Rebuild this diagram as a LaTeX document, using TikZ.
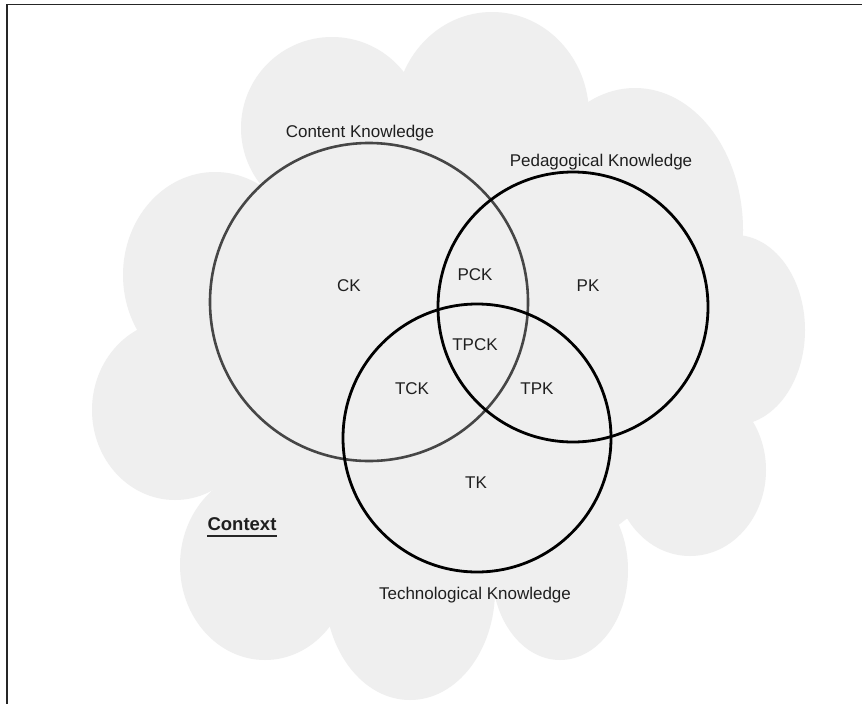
\documentclass[tikz,border=0pt]{standalone}
\usepackage{fontspec}
\setmainfont{Liberation Sans}
\definecolor{cloudgray}{RGB}{239,239,239}
\definecolor{ringck}{RGB}{70,70,70}
\begin{document}
\begin{tikzpicture}[x=1pt,y=-1pt,
  lbl/.style={font=\fontsize{17}{20}\selectfont, text=black!88, inner sep=0pt, anchor=base},
  ring/.style={circle, draw=black, line width=2.8pt, minimum size=#1, inner sep=0pt, outer sep=0pt},
  lobe/.style={fill=cloudgray, draw=none}]
\useasboundingbox (0,0) rectangle (862,704);
\fill[white] (0,0) rectangle (862,704);

% cloud (context)
\fill[lobe] (332,128) ellipse[x radius=91pt, y radius=91pt];
\fill[lobe] (492,115) ellipse[x radius=97pt, y radius=103pt];
\fill[lobe] (635,230) ellipse[x radius=108pt, y radius=142pt];
\fill[lobe] (735,330) ellipse[x radius=70pt, y radius=95pt];
\fill[lobe] (690,470) ellipse[x radius=76pt, y radius=86pt];
\fill[lobe] (560,570) ellipse[x radius=68pt, y radius=90pt];
\fill[lobe] (410,590) ellipse[x radius=85pt, y radius=110pt];
\fill[lobe] (265,565) ellipse[x radius=85pt, y radius=95pt];
\fill[lobe] (175,410) ellipse[x radius=83pt, y radius=90pt];
\fill[lobe] (215,275) ellipse[x radius=92pt, y radius=103pt];
\fill[lobe] (332,128) -- (492,115) -- (635,230) -- (735,330) -- (690,470) -- (560,570)
  -- (410,590) -- (265,565) -- (175,410) -- (215,275) -- cycle;

% frame (top and left edges)
\draw[line width=1.2pt, black!85] (7,704) -- (7,4.5) -- (862,4.5);

% circles
\node[ring=318pt, draw=ringck, line width=2.6pt] (ckring) at (369,302) {};
\node[ring=270pt] (pkring) at (573,307) {};
\node[ring=268pt] (tkring) at (477,438) {};

% labels
\node[lbl] (cklabel) at (360,137.5) {Content Knowledge};
\node[lbl] (pklabel) at (601,166.5) {Pedagogical Knowledge};
\node[lbl] (tklabel) at (475,599) {Technological Knowledge};
\node[lbl] (ck) at (349,291.5) {CK};
\node[lbl] (pck) at (475,280) {PCK};
\node[lbl] (pk) at (588,291.5) {PK};
\node[lbl] (tpck) at (475,350) {TPCK};
\node[lbl] (tck) at (412,394) {TCK};
\node[lbl] (tpk) at (537,394) {TPK};
\node[lbl] (tk) at (476,488) {TK};
\node[lbl, font=\fontsize{18.5}{22}\selectfont\bfseries] (ctx) at (242,530) {Context};
\draw[line width=1.6pt, black!85] ([yshift=-6pt]ctx.base west) -- ([yshift=-6pt]ctx.base east);
\end{tikzpicture}
\end{document}
